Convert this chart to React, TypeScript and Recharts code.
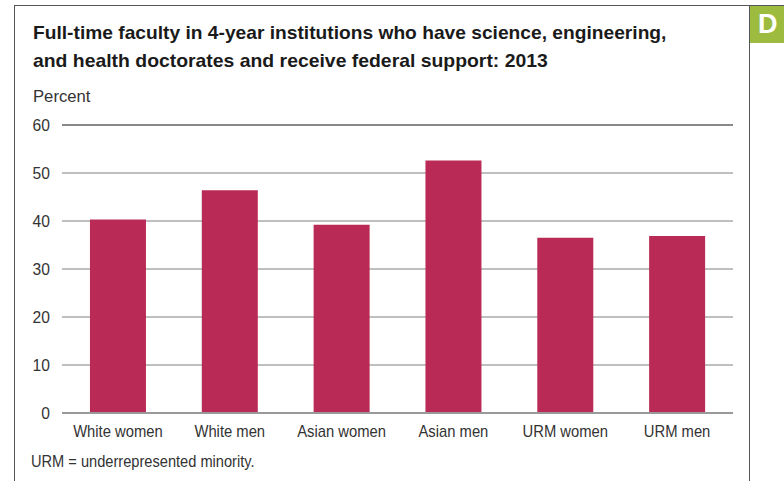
import React from 'react';
import { BarChart, Bar, XAxis, YAxis, CartesianGrid, ReferenceLine } from 'recharts';

const categories = ['White women', 'White men', 'Asian women', 'Asian men', 'URM women', 'URM men'];
const percents = [40.3, 46.4, 39.2, 52.6, 36.5, 36.9];
const yTicks = [0, 10, 20, 30, 40, 50, 60];

const data = categories.map((group, i) => ({ group, value: percents[i] }));

const FONT = '"Liberation Sans", Arial, sans-serif';
const BAR_COLOR = '#BA2A56';
const TEXT = '#333333';

// the reference uses a condensed face, so text is squeezed a bit
function Narrow({ children, scale }: { children: React.ReactNode; scale: number }) {
  return (
    <span style={{ display: 'inline-block', transform: `scaleX(${scale})`, transformOrigin: 'left center', whiteSpace: 'nowrap' }}>
      {children}
    </span>
  );
}

function XTick({ x, y, payload }: any) {
  return (
    <g transform={`translate(${x},${y})`}>
      <text transform="scale(0.87,1)" x={0} y={0} dy={16} textAnchor="middle" fill={TEXT} fontSize={17} fontFamily={FONT}>
        {payload.value}
      </text>
    </g>
  );
}

function YTick({ x, y, payload }: any) {
  return (
    <g transform={`translate(${x - 4},${y})`}>
      <text transform="scale(0.92,1)" x={0} y={0} dy={6} textAnchor="end" fill={TEXT} fontSize={17} fontFamily={FONT}>
        {payload.value}
      </text>
    </g>
  );
}

export default function App() {
  return (
    <div
      style={{
        position: 'absolute',
        left: 0,
        top: 0,
        width: 784,
        height: 481,
        background: '#fff',
        overflow: 'hidden',
        fontFamily: FONT,
      }}
    >
      {/* frame */}
      <div style={{ position: 'absolute', left: 14, top: 5, width: 770, height: 0, borderTop: '1.5px solid #555' }} />
      <div style={{ position: 'absolute', left: 14, top: 5, width: 0, height: 476, borderLeft: '1.5px solid #555' }} />
      <div style={{ position: 'absolute', left: 749, top: 5, width: 0, height: 476, borderLeft: '1.5px solid #555' }} />
      <div
        style={{
          position: 'absolute',
          left: 750,
          top: 6,
          width: 34,
          height: 37,
          background: '#9DBB3F',
          color: '#fff',
          fontWeight: 700,
          fontSize: 27,
          lineHeight: '37px',
          paddingLeft: 8,
          boxSizing: 'border-box',
        }}
      >
        D
      </div>

      <div
        style={{
          position: 'absolute',
          left: 33,
          top: 19,
          fontSize: 19,
          fontWeight: 700,
          lineHeight: '28px',
          color: '#1a1a1a',
        }}
      >
        <Narrow scale={1.01}>Full-time faculty in 4-year institutions who have science, engineering,</Narrow>
        <br />
        <Narrow scale={1.02}>and health doctorates and receive federal support: 2013</Narrow>
      </div>
      <div style={{ position: 'absolute', left: 33, top: 87, fontSize: 17, color: TEXT }}>
        <Narrow scale={0.98}>Percent</Narrow>
      </div>

      <div style={{ position: 'absolute', left: 0, top: 0 }}>
        <BarChart
          width={784}
          height={481}
          data={data}
          margin={{ top: 125, right: 51, left: 22, bottom: 38 }}
          barCategoryGap="25%"
        >
          <CartesianGrid horizontal vertical={false} stroke="#AAAAAA" strokeWidth={1.5} />
          <XAxis
            dataKey="group"
            tick={<XTick />}
            tickLine={false}
            axisLine={{ stroke: '#999999', strokeWidth: 2 }}
            height={30}
            interval={0}
          />
          <YAxis
            domain={[0, 60]}
            ticks={yTicks}
            tick={<YTick />}
            tickLine={false}
            axisLine={false}
            width={40}
          />
          <ReferenceLine y={60} stroke="#888888" strokeWidth={2} />
          <Bar dataKey="value" fill={BAR_COLOR} isAnimationActive={false} />
        </BarChart>
      </div>

      <div style={{ position: 'absolute', left: 31, top: 452, fontSize: 17, color: TEXT }}>
        <Narrow scale={0.86}>URM = underrepresented minority.</Narrow>
      </div>
    </div>
  );
}
